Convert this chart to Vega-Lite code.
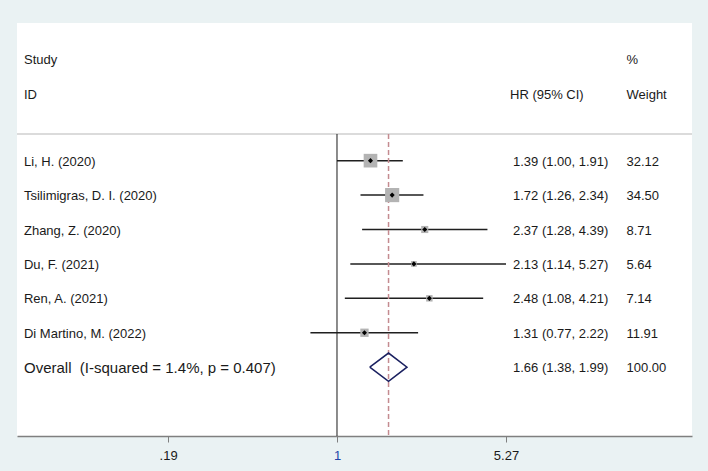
{
  "$schema": "https://vega.github.io/schema/vega-lite/v6.json",
  "width": 675,
  "height": 413,
  "autosize": {"type": "none"},
  "padding": {"left": 17, "top": 23, "right": 16, "bottom": 35},
  "background": "#EAF2F3",
  "config": {
    "view": {"fill": "white", "stroke": null},
    "font": "Liberation Sans",
    "text": {"font": "Liberation Sans", "fontSize": 13, "color": "#1a1a1a", "align": "left", "baseline": "middle", "dy": 1}
  },
  "datasets": {
    "studies": [
      {"label": "Li, H. (2020)", "hr": 1.39, "lo": 1.00, "hi": 1.91, "w": 32.12, "row": 0, "ci": "1.39 (1.00, 1.91)", "wt": "32.12", "kind": "study"},
      {"label": "Tsilimigras, D. I. (2020)", "hr": 1.72, "lo": 1.26, "hi": 2.34, "w": 34.50, "row": 1, "ci": "1.72 (1.26, 2.34)", "wt": "34.50", "kind": "study"},
      {"label": "Zhang, Z. (2020)", "hr": 2.37, "lo": 1.28, "hi": 4.39, "w": 8.71, "row": 2, "ci": "2.37 (1.28, 4.39)", "wt": "8.71", "kind": "study"},
      {"label": "Du, F. (2021)", "hr": 2.13, "lo": 1.14, "hi": 5.27, "w": 5.64, "row": 3, "ci": "2.13 (1.14, 5.27)", "wt": "5.64", "kind": "study"},
      {"label": "Ren, A. (2021)", "hr": 2.48, "lo": 1.08, "hi": 4.21, "w": 7.14, "row": 4, "ci": "2.48 (1.08, 4.21)", "wt": "7.14", "kind": "study"},
      {"label": "Di Martino, M. (2022)", "hr": 1.31, "lo": 0.77, "hi": 2.22, "w": 11.91, "row": 5, "ci": "1.31 (0.77, 2.22)", "wt": "11.91", "kind": "study"},
      {"label": "Overall\u00a0 (I-squared = 1.4%, p = 0.407)", "hr": 1.66, "lo": 1.38, "hi": 1.99, "w": 100, "row": 6, "ci": "1.66 (1.38, 1.99)", "wt": "100.00", "kind": "overall"}
    ],
    "diamond": [
      {"vx": 1.38, "vy": 6, "o": 0},
      {"vx": 1.66, "vy": 5.59, "o": 1},
      {"vx": 1.99, "vy": 6, "o": 2},
      {"vx": 1.66, "vy": 6.41, "o": 3},
      {"vx": 1.38, "vy": 6, "o": 4}
    ]
  },
  "data": {"name": "studies"},
  "layer": [
    {
      "data": {"values": [{}]},
      "mark": {"type": "rule", "color": "#cfcfcf", "strokeWidth": 1.5},
      "encoding": {
        "y": {"datum": -0.775, "type": "quantitative", "scale": {"domain": [-4, 8], "reverse": true, "nice": false, "zero": false}, "axis": null}
      }
    },
    {
      "transform": [{"filter": "datum.kind == 'study'"}],
      "mark": {"type": "rule", "color": "#1f1f1f", "strokeWidth": 1.5},
      "encoding": {
        "x": {
          "field": "lo", "type": "quantitative",
          "scale": {"type": "log", "domain": [0.043, 32.81], "nice": false, "zero": false},
          "axis": {
            "values": [0.19, 1, 5.27],
            "labelExpr": "datum.value < 0.5 ? '.19' : (datum.value < 2 ? '1' : '5.27')",
            "title": null,
            "grid": false,
            "domainColor": "#7f7f7f",
            "domainWidth": 1.5,
            "tickColor": "#7f7f7f",
            "tickSize": 6,
            "tickWidth": 1,
            "labelFont": "Liberation Sans",
            "labelFontSize": 13,
            "labelPadding": 7,
            "labelFlush": false,
            "labelOverlap": false,
            "labelColor": {"condition": {"test": "datum.value == 1", "value": "#1f44a8"}, "value": "#1a1a1a"}
          }
        },
        "x2": {"field": "hi"},
        "y": {"field": "row", "type": "quantitative"}
      }
    },
    {
      "data": {"values": [{}]},
      "mark": {"type": "rule", "color": "#1a1a1a", "strokeWidth": 1},
      "encoding": {
        "x": {"datum": 1, "type": "quantitative"},
        "y": {"datum": -0.775, "type": "quantitative"},
        "y2": {"datum": 8}
      }
    },
    {
      "data": {"values": [{}]},
      "mark": {"type": "rule", "color": "#c48b90", "strokeWidth": 1.5, "strokeDash": [5, 3]},
      "encoding": {
        "x": {"datum": 1.66, "type": "quantitative"},
        "y": {"datum": -0.775, "type": "quantitative"},
        "y2": {"datum": 8}
      }
    },
    {
      "transform": [{"filter": "datum.kind == 'study'"}],
      "mark": {"type": "point", "shape": "square", "filled": true, "color": "#b3b3b3", "opacity": 1},
      "encoding": {
        "x": {"field": "hr", "type": "quantitative"},
        "y": {"field": "row", "type": "quantitative"},
        "size": {"field": "w", "type": "quantitative", "scale": {"type": "linear", "domain": [0, 34.5], "range": [0, 200]}, "legend": null}
      }
    },
    {
      "transform": [{"filter": "datum.kind == 'study'"}],
      "mark": {"type": "point", "shape": "diamond", "filled": true, "color": "#000000", "opacity": 1, "size": 26},
      "encoding": {
        "x": {"field": "hr", "type": "quantitative"},
        "y": {"field": "row", "type": "quantitative"}
      }
    },
    {
      "data": {"name": "diamond"},
      "mark": {"type": "line", "color": "#1a2060", "strokeWidth": 1.5},
      "encoding": {
        "x": {"field": "vx", "type": "quantitative"},
        "y": {"field": "vy", "type": "quantitative"},
        "order": {"field": "o", "type": "quantitative"}
      }
    },
    {
      "transform": [{"filter": "datum.kind == 'study'"}],
      "mark": {"type": "text"},
      "encoding": {
        "x": {"datum": 0.04605, "type": "quantitative"},
        "y": {"field": "row", "type": "quantitative"},
        "text": {"field": "label"}
      }
    },
    {
      "transform": [{"filter": "datum.kind == 'overall'"}],
      "mark": {"type": "text", "fontSize": 15},
      "encoding": {
        "x": {"datum": 0.04605, "type": "quantitative"},
        "y": {"field": "row", "type": "quantitative"},
        "text": {"field": "label"}
      }
    },
    {
      "mark": {"type": "text"},
      "encoding": {
        "x": {"datum": 5.644, "type": "quantitative"},
        "y": {"field": "row", "type": "quantitative"},
        "text": {"field": "ci"}
      }
    },
    {
      "mark": {"type": "text"},
      "encoding": {
        "x": {"datum": 17.23, "type": "quantitative"},
        "y": {"field": "row", "type": "quantitative"},
        "text": {"field": "wt"}
      }
    },
    {
      "data": {"values": [{"t": "Study", "row": -2.95}, {"t": "ID", "row": -1.93}]},
      "mark": {"type": "text"},
      "encoding": {
        "x": {"datum": 0.04605, "type": "quantitative"},
        "y": {"field": "row", "type": "quantitative"},
        "text": {"field": "t"}
      }
    },
    {
      "data": {"values": [{"t": "HR (95% CI)", "row": -1.93}]},
      "mark": {"type": "text"},
      "encoding": {
        "x": {"datum": 5.48, "type": "quantitative"},
        "y": {"field": "row", "type": "quantitative"},
        "text": {"field": "t"}
      }
    },
    {
      "data": {"values": [{"t": "%", "row": -2.95}, {"t": "Weight", "row": -1.93}]},
      "mark": {"type": "text"},
      "encoding": {
        "x": {"datum": 17.23, "type": "quantitative"},
        "y": {"field": "row", "type": "quantitative"},
        "text": {"field": "t"}
      }
    }
  ]
}
